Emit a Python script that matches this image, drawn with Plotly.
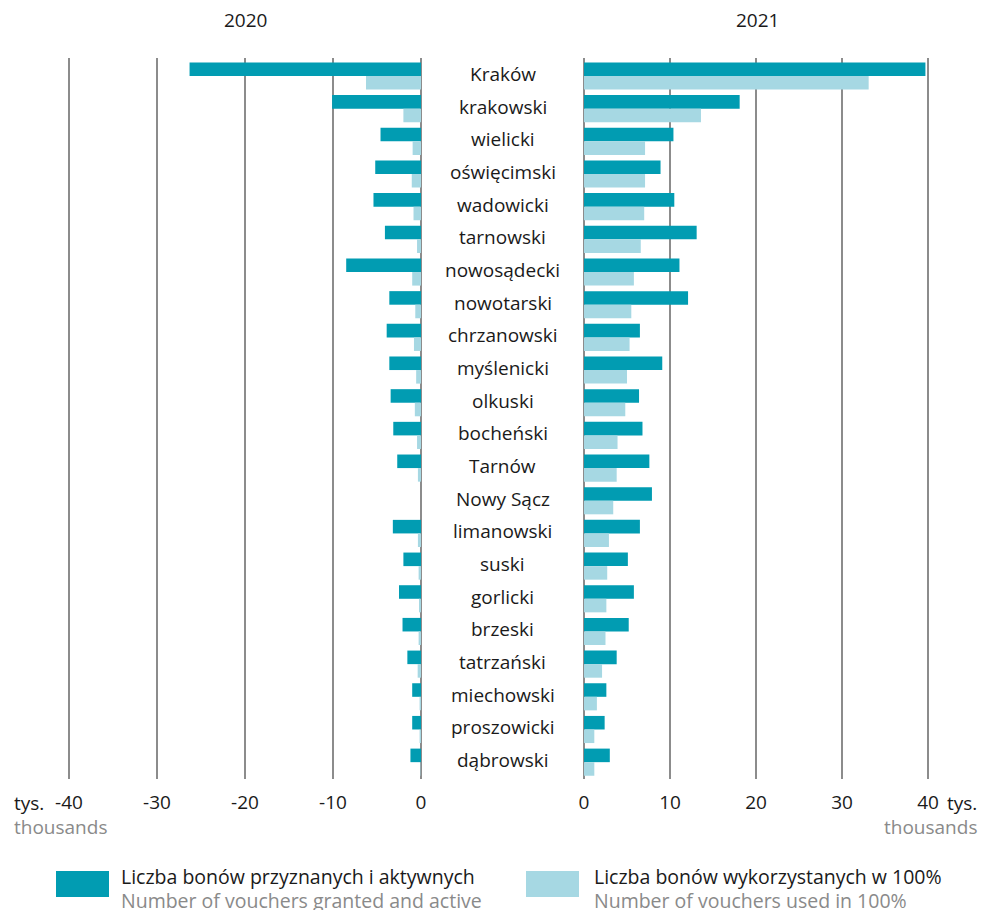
import plotly.graph_objects as go

categories = ["Kraków", "krakowski", "wielicki", "oświęcimski", "wadowicki", "tarnowski",
              "nowosądecki", "nowotarski", "chrzanowski", "myślenicki", "olkuski", "bocheński",
              "Tarnów", "Nowy Sącz", "limanowski", "suski", "gorlicki", "brzeski",
              "tatrzański", "miechowski", "proszowicki", "dąbrowski"]

# thousands
granted_2020 = [26.3, 10.1, 4.6, 5.2, 5.4, 4.1, 8.5, 3.6, 3.9, 3.6, 3.45, 3.15,
                2.7, 0.0, 3.2, 2.0, 2.5, 2.1, 1.55, 1.0, 1.0, 1.2]
used_2020 = [6.25, 2.0, 0.95, 1.05, 0.85, 0.45, 1.0, 0.65, 0.8, 0.55, 0.7, 0.45,
             0.35, 0.0, 0.35, 0.27, 0.23, 0.27, 0.38, 0.05, 0.05, 0.03]
granted_2021 = [39.7, 18.1, 10.4, 8.9, 10.5, 13.1, 11.1, 12.1, 6.5, 9.1, 6.4, 6.8,
                7.6, 7.9, 6.5, 5.1, 5.8, 5.2, 3.8, 2.6, 2.4, 3.0]
used_2021 = [33.1, 13.6, 7.1, 7.1, 7.0, 6.6, 5.8, 5.5, 5.3, 5.0, 4.8, 3.9,
             3.8, 3.4, 2.9, 2.7, 2.6, 2.5, 2.1, 1.5, 1.2, 1.2]

left_ticks = [-40, -30, -20, -10, 0]
right_ticks = [0, 10, 20, 30, 40]
years = ["2020", "2021"]
legend_pl = ["Liczba bonów przyznanych i aktywnych", "Liczba bonów wykorzystanych w 100%"]
legend_en = ["Number of vouchers granted and active", "Number of vouchers used in 100%"]

DARK = "#019CB2"
LIGHT = "#A6D8E3"
GRID = "#8c8c8c"
GREY_TXT = "#8a8a8a"
BLACK = "#1a1a1a"
FONT = "Open Sans"
FS = 19

# the page places the figure 8 px from the window's top-left corner
OFF = 8
W, H = 978, 902
fig = go.Figure()

fig.add_trace(go.Bar(y=categories, x=[-v for v in granted_2020], orientation="h",
                     marker=dict(color=DARK, line=dict(width=0)), xaxis="x", yaxis="y",
                     offsetgroup="a", showlegend=False))
fig.add_trace(go.Bar(y=categories, x=[-v for v in used_2020], orientation="h",
                     marker=dict(color=LIGHT, line=dict(width=0)), xaxis="x", yaxis="y",
                     offsetgroup="b", showlegend=False))
fig.add_trace(go.Bar(y=categories, x=granted_2021, orientation="h",
                     marker=dict(color=DARK, line=dict(width=0)), xaxis="x2", yaxis="y",
                     offsetgroup="a", showlegend=False))
fig.add_trace(go.Bar(y=categories, x=used_2021, orientation="h",
                     marker=dict(color=LIGHT, line=dict(width=0)), xaxis="x2", yaxis="y",
                     offsetgroup="b", showlegend=False))

def px_x(p):
    return (p - OFF) / W

def px_y(p):
    return 1 - (p - OFF) / H

axis_common = dict(showgrid=True, gridcolor=GRID, gridwidth=1.5, zeroline=True,
                   zerolinecolor=GRID, zerolinewidth=1.5, showline=False,
                   ticks="", ticklabelstandoff=10, automargin=False,
                   tickfont=dict(family=FONT, size=FS, color=BLACK), fixedrange=True)

fig.update_layout(
    width=W, height=H, autosize=False,
    margin=dict(l=0, r=0, t=0, b=0, pad=0, autoexpand=False),
    paper_bgcolor="white", plot_bgcolor="white",
    barmode="group", bargap=0.17, bargroupgap=0,
    font=dict(family=FONT, size=FS, color=BLACK),
    xaxis=dict(domain=[px_x(64.6), px_x(421)], range=[-40.5, 0], tickvals=left_ticks,
               ticktext=[str(t) for t in left_ticks], anchor="y", **axis_common),
    xaxis2=dict(domain=[px_x(584), px_x(932.3)], range=[0, 40.5], tickvals=right_ticks,
                ticktext=[str(t) for t in right_ticks], anchor="y", **axis_common),
    yaxis=dict(domain=[px_y(778.5), px_y(58)], categoryorder="array", categoryarray=categories,
               range=[21.5, -0.55], showticklabels=False, showgrid=False, zeroline=False,
               showline=False, anchor="free", position=0,
               fixedrange=True, automargin=False),
)

annotations = []
for c in categories:
    annotations.append(dict(x=px_x(503), xref="paper", y=c, yref="y", yshift=2,
                            text=c, showarrow=False, xanchor="center", yanchor="middle",
                            font=dict(family=FONT, size=FS, color=BLACK)))

def txt(x, y, text, anchor="center", color=BLACK, size=FS):
    annotations.append(dict(x=px_x(x), y=px_y(y), xref="paper", yref="paper", text=text,
                            showarrow=False, xanchor=anchor, yanchor="middle",
                            font=dict(family=FONT, size=size, color=color)))

txt(245, 20, years[0])
txt(757, 20, years[1])
txt(12, 803, "tys.", "left")
txt(12, 827, "thousands", "left", GREY_TXT)
txt(979, 803, "tys.", "right")
txt(979, 827, "thousands", "right", GREY_TXT)

leg_x = [56, 526]
leg_txt_x = [119, 592]
colors = [DARK, LIGHT]
shapes = []
for i in range(2):
    shapes.append(dict(type="rect", xref="paper", yref="paper",
                       x0=px_x(leg_x[i]), x1=px_x(leg_x[i] + 53),
                       y0=px_y(897), y1=px_y(871), fillcolor=colors[i], line=dict(width=0)))
    txt(leg_txt_x[i], 876, legend_pl[i], "left", BLACK, 19.5)
    txt(leg_txt_x[i], 900, legend_en[i], "left", GREY_TXT, 19.5)

fig.update_layout(annotations=annotations, shapes=shapes)
fig.write_html("out.html")
